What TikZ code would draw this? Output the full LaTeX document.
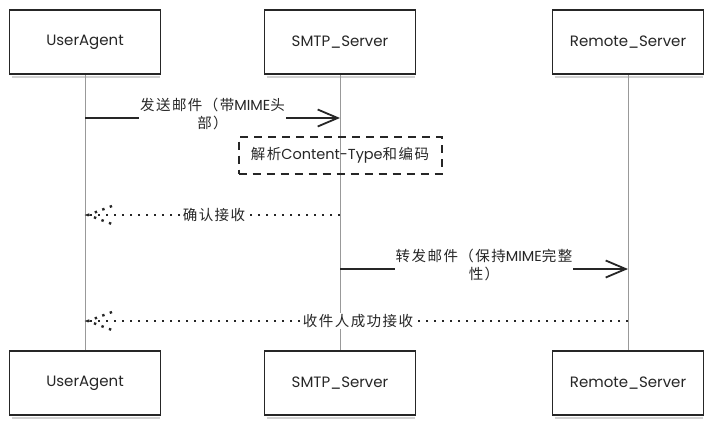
\documentclass[tikz,border=0pt]{standalone}
\usepackage{fontspec}
\setmainfont{Poppins}
\newfontfamily\cjk[LetterSpace=10]{Noto Sans CJK SC}
\usetikzlibrary{arrows.meta}
\begin{document}
\begin{tikzpicture}[x=1pt,y=-1pt,
  actor/.style={draw=black!85, line width=1.6pt, fill=white, minimum width=151pt, minimum height=64pt, inner sep=0pt, font=\fontsize{15}{17}\selectfont, text=black!85},
  life/.style={draw=black!40, line width=1pt},
  shadowline/.style={draw=black!18, line width=2pt},
  msg/.style={draw=black!85, line width=1.8pt, -{Straight Barb[length=20pt,width=17pt,line width=1.8pt]}},
  lbl/.style={fill=white, inner sep=1pt, align=center, font=\fontsize{14.5}{18}\selectfont, text=black!85},
  ret/.style={draw=black!85, line width=2.4pt, dash pattern=on 2.4pt off 5.6pt},
  note/.style={draw=black!85, line width=2pt, dash pattern=on 8pt off 6pt, minimum width=203pt, minimum height=37pt, inner sep=2pt, font=\fontsize{14.5}{17}\selectfont, text=black!85},
]
\useasboundingbox (0,0) rectangle (712,426);
% actors
\node[actor] (ua) at (85,42) {UserAgent};
\node[actor] (sm) at (340,42) {SMTP\_Server};
\node[actor] (rs) at (628,42) {Remote\_Server};
\node[actor] (ub) at (85,383) {UserAgent};
\node[actor] (sb) at (340,383) {SMTP\_Server};
\node[actor] (rb) at (628,383) {Remote\_Server};
\foreach \n in {ua,sm,rs,ub,sb,rb}{
  \draw[shadowline] ([xshift=3pt,yshift=-2.5pt]\n.south west) -- ([xshift=-1pt,yshift=-2.5pt]\n.south east);
}
% lifelines
\draw[life] (ua.south) -- (ub.north);
\draw[life] (sm.south) -- (sb.north);
\draw[life] (rs.south) -- (rb.north);
% levels
\coordinate (y1) at (0,118);
\coordinate (y2) at (0,215);
\coordinate (y3) at (0,269);
\coordinate (y4) at (0,321);
% message 1
\draw[msg] (ua.south |- y1) -- (sm.south |- y1)
  node[lbl, midway, yshift=4pt] {{\cjk 发送邮件（带}MIME{\cjk 头}\\{\cjk 部）}};
% note
\node[note] (n1) at (340,155) {{\cjk 解析}Content-Type{\cjk 和编码}};
% message 2 (return)
\coordinate (t2) at ([xshift=3pt]ua.south |- y2);
\draw[ret] (sm.south |- y2) -- (t2)
  node[lbl, midway] {\cjk 确认接收};
\draw[ret] ([xshift=24pt,yshift=9pt]t2) -- (t2) -- ([xshift=24pt,yshift=-9pt]t2);
% message 3
\draw[msg] (sm.south |- y3) -- (rs.south |- y3)
  node[lbl, midway, yshift=4pt] {{\cjk 转发邮件（保持}MIME{\cjk 完整}\\{\cjk 性）}};
% message 4 (return)
\coordinate (t4) at ([xshift=3pt]ua.south |- y4);
\draw[ret] (rs.south |- y4) -- (t4)
  node[lbl, midway] {\cjk 收件人成功接收};
\draw[ret] ([xshift=24pt,yshift=9pt]t4) -- (t4) -- ([xshift=24pt,yshift=-9pt]t4);
\end{tikzpicture}
\end{document}
